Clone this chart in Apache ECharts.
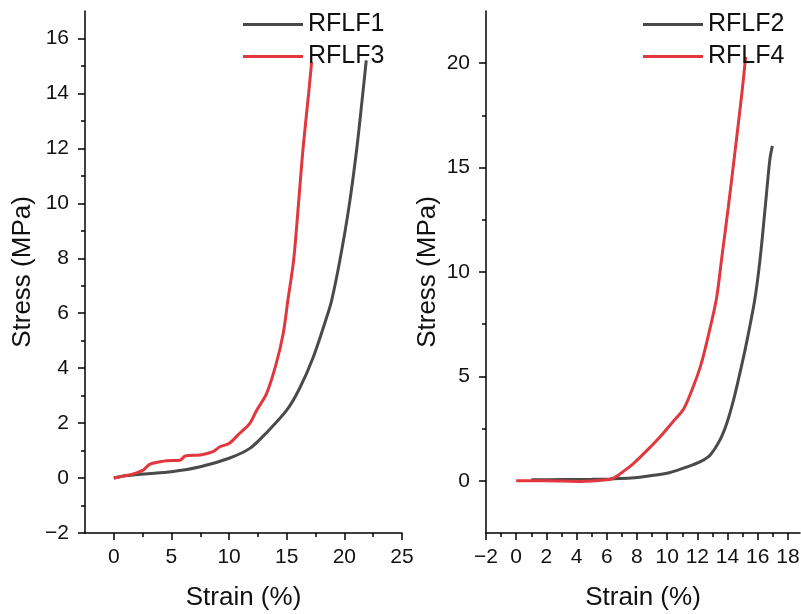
<!DOCTYPE html>
<html>
<head>
<meta charset="utf-8">
<script src="https://cdn.jsdelivr.net/npm/echarts@6/dist/echarts.min.js"></script>
<style>
html,body{margin:0;padding:0;background:#fff;}
#chart{width:801px;height:614px;}
</style>
</head>
<body>
<div id="chart"></div>
<script>
// ---- data ----
var rflf1Strain = [0, 1.0, 2.6, 5.0, 7.5, 10.0, 11.8, 13.2, 15.0, 16.1, 17.3, 18.5, 18.9, 19.6, 20.4, 21.06, 21.6, 21.9];
var rflf1Stress = [0, 0.08, 0.15, 0.23, 0.41, 0.72, 1.08, 1.63, 2.47, 3.25, 4.4, 5.9, 6.47, 7.9, 9.87, 11.93, 14.0, 15.2];

var rflf3Strain = [0, 0.8, 1.7, 2.56, 3.1, 4.0, 4.6, 5.74, 6.2, 7.5, 8.6, 9.2, 10.0, 10.9, 11.8, 12.4, 13.26, 14.1, 14.7, 15.1, 15.6, 16.0, 16.4, 16.9, 17.16];
var rflf3Stress = [0, 0.07, 0.15, 0.29, 0.5, 0.59, 0.63, 0.65, 0.8, 0.84, 0.96, 1.14, 1.26, 1.62, 1.99, 2.47, 3.08, 4.18, 5.27, 6.47, 7.93, 9.87, 11.93, 14.0, 15.14];

var rflf2Strain = [1.0, 3.0, 5.0, 6.2, 7.6, 8.9, 10.2, 11.3, 12.2, 12.85, 13.5, 13.95, 14.4, 14.8, 15.2, 15.8, 16.15, 16.5, 16.8, 16.97];
var rflf2Stress = [0.05, 0.06, 0.07, 0.09, 0.13, 0.24, 0.4, 0.66, 0.92, 1.24, 1.96, 2.76, 3.88, 5.1, 6.4, 8.66, 10.58, 13.13, 15.37, 16.04];

var rflf4Strain = [0, 2.0, 4.25, 6.0, 6.45, 7.1, 7.8, 8.7, 9.55, 10.4, 11.1, 11.75, 12.2, 12.5, 13.25, 13.6, 14.05, 14.5, 14.95, 15.2];
var rflf4Stress = [0, 0, -0.03, 0.05, 0.13, 0.45, 0.85, 1.48, 2.12, 2.84, 3.45, 4.55, 5.47, 6.27, 8.66, 10.58, 13.1, 15.8, 18.56, 20.3];

var leftXTicks = [0, 5, 10, 15, 20, 25];
var leftXMinor = [2.5, 7.5, 12.5, 17.5, 22.5];
var leftYTicks = [-2, 0, 2, 4, 6, 8, 10, 12, 14, 16];
var leftYMinor = [-1, 1, 3, 5, 7, 9, 11, 13, 15];
var rightXTicks = [-2, 0, 2, 4, 6, 8, 10, 12, 14, 16, 18];
var rightXMinor = [-1, 1, 3, 5, 7, 9, 11, 13, 15, 17];
var rightYTicks = [0, 5, 10, 15, 20];
var rightYMinor = [2.5, 7.5, 12.5, 17.5];

var seriesNames = ['RFLF1', 'RFLF3', 'RFLF2', 'RFLF4'];
var xTitle = 'Strain (%)';
var yTitle = 'Stress (MPa)';

// ---- helpers ----
function pairs(xs, ys) { return xs.map(function (x, i) { return [x, ys[i]]; }); }
function fmt(v) { return v < 0 ? '\u2212' + Math.abs(v) : String(v); }

var FONT = '"Liberation Sans", Arial, sans-serif';
var TXT = '#111111';
var GRAY = '#4a4a4a';
var RED = '#e0383e';

function majorAxis(grid, pos, min, max, ticks, name, nameGap) {
  return {
    type: 'value', gridIndex: grid, position: pos, min: min, max: max,
    name: name, nameLocation: 'middle', nameGap: nameGap,
    nameTextStyle: { fontFamily: FONT, fontSize: 26, color: TXT },
    axisLine: { show: true, onZero: false, lineStyle: { color: '#000', width: 1.5 } },
    axisTick: { show: true, inside: false, length: 7, customValues: ticks, lineStyle: { color: '#000', width: 1.5 } },
    axisLabel: { show: true, customValues: ticks, margin: pos === 'left' ? 16 : 14, fontFamily: FONT, fontSize: 21, color: TXT, formatter: fmt },
    splitLine: { show: false }, minorTick: { show: false }
  };
}
function minorAxis(grid, pos, min, max, ticks) {
  return {
    type: 'value', gridIndex: grid, position: pos, min: min, max: max,
    axisLine: { show: false, onZero: false },
    axisTick: { show: true, inside: false, length: 4, customValues: ticks, lineStyle: { color: '#000', width: 1.5 } },
    axisLabel: { show: false }, splitLine: { show: false }
  };
}
function legendBox(names, left) {
  return {
    data: names, orient: 'vertical', left: left, top: 6, icon: 'rect',
    itemWidth: 60, itemHeight: 3, itemGap: 5,
    textStyle: { fontFamily: FONT, fontSize: 25, color: TXT, lineHeight: 27 }, selectedMode: false
  };
}
function lineSeries(name, xi, xs, ys, color, z) {
  return {
    name: name, type: 'line', xAxisIndex: xi, yAxisIndex: xi, data: pairs(xs, ys),
    symbol: 'none', showSymbol: false, smooth: 0.3,
    lineStyle: { color: color, width: 3 }, itemStyle: { color: color }, z: z
  };
}

var chart = echarts.init(document.getElementById('chart'), null, { renderer: 'canvas' });
chart.setOption({
  animation: false,
  backgroundColor: '#ffffff',
  grid: [
    { left: 85, top: 11, width: 317, height: 522, containLabel: false, outerBoundsMode: 'none' },
    { left: 486, top: 11, width: 314, height: 522, containLabel: false, outerBoundsMode: 'none' }
  ],
  xAxis: [
    majorAxis(0, 'bottom', -2.5, 25, leftXTicks, xTitle, 52),
    minorAxis(0, 'bottom', -2.5, 25, leftXMinor),
    majorAxis(1, 'bottom', -2, 18.8, rightXTicks, xTitle, 52),
    minorAxis(1, 'bottom', -2, 18.8, rightXMinor)
  ],
  yAxis: [
    majorAxis(0, 'left', -2, 17, leftYTicks, yTitle, 49),
    minorAxis(0, 'left', -2, 17, leftYMinor),
    majorAxis(1, 'left', -2.5, 22.5, rightYTicks, yTitle, 45),
    minorAxis(1, 'left', -2.5, 22.5, rightYMinor)
  ],
  legend: [
    legendBox([seriesNames[0], seriesNames[1]], 238),
    legendBox([seriesNames[2], seriesNames[3]], 638)
  ],
  series: [
    lineSeries(seriesNames[0], 0, rflf1Strain, rflf1Stress, GRAY, 2),
    lineSeries(seriesNames[1], 0, rflf3Strain, rflf3Stress, RED, 3),
    lineSeries(seriesNames[2], 2, rflf2Strain, rflf2Stress, GRAY, 2),
    lineSeries(seriesNames[3], 2, rflf4Strain, rflf4Stress, RED, 3)
  ]
});
</script>
</body>
</html>
